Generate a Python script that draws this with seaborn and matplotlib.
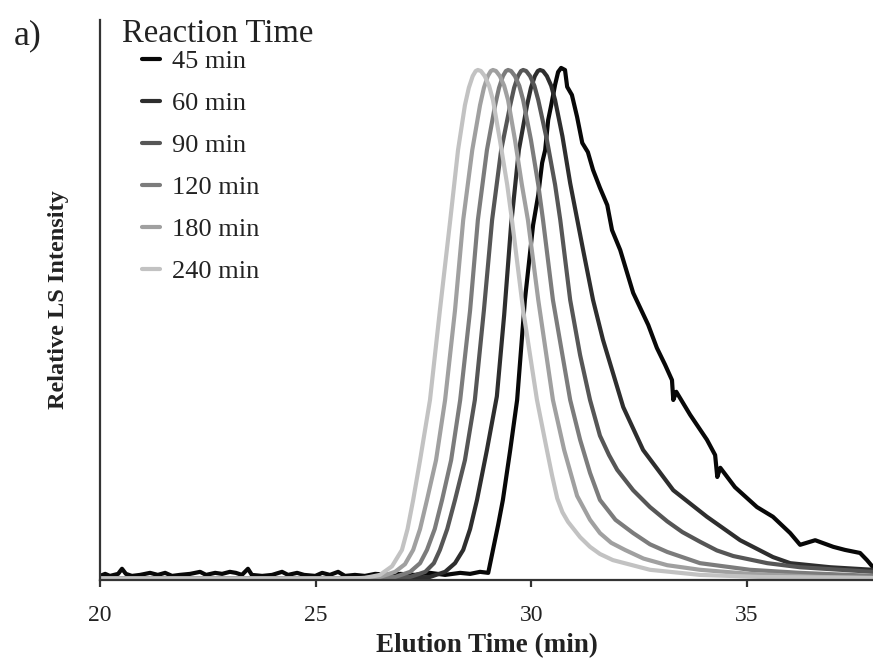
import matplotlib
matplotlib.use("Agg")
import matplotlib.pyplot as plt
import seaborn as sns
import pandas as pd

# Light-scattering traces (relative intensity) versus elution time, one per reaction time
labels = ["45 min", "60 min", "90 min", "120 min", "180 min", "240 min"]
colors = ["#080808", "#2e2e2e", "#565656", "#7c7c7c", "#a0a0a0", "#c2c2c2"]

t45 = [20.00, 20.12, 20.23, 20.42, 20.51, 20.60, 20.74, 20.93, 21.16, 21.34, 21.51, 21.67,
       21.85, 22.09, 22.32, 22.46, 22.67, 22.83, 23.01, 23.15, 23.29, 23.43, 23.52, 23.76,
       23.99, 24.22, 24.36, 24.57, 24.73, 24.99, 25.15, 25.33, 25.52, 25.68, 25.91, 26.14,
       26.38, 26.72, 26.96, 27.30, 27.65, 28.00, 28.35, 28.58, 28.81, 29.00,
       29.11, 29.23, 29.34, 29.51, 29.67, 29.85, 30.04, 30.16, 30.20, 30.25, 30.32, 30.39,
       30.46, 30.55, 30.62, 30.69,
       30.78, 30.83, 30.94, 31.06, 31.18, 31.31, 31.43, 31.59, 31.76, 31.87, 32.06, 32.36,
       32.71, 32.91, 33.10, 33.26, 33.29, 33.36, 33.68, 34.07, 34.26, 34.31, 34.38, 34.72,
       35.23, 35.60, 36.00, 36.23, 36.58, 37.00, 37.27, 37.62, 37.78, 37.92]
i45 = [0.008, 0.012, 0.008, 0.012, 0.022, 0.012, 0.008, 0.010, 0.014, 0.010, 0.014, 0.008,
       0.010, 0.012, 0.016, 0.010, 0.014, 0.012, 0.016, 0.014, 0.010, 0.022, 0.010, 0.008,
       0.010, 0.016, 0.010, 0.014, 0.010, 0.008, 0.014, 0.010, 0.016, 0.008, 0.010, 0.008,
       0.012, 0.010, 0.012, 0.010, 0.014, 0.010, 0.014, 0.012, 0.016, 0.014,
       0.059, 0.108, 0.157, 0.255, 0.353, 0.549, 0.696, 0.755, 0.784, 0.818, 0.843, 0.902,
       0.931, 0.971, 0.996, 1.004,
       1.000, 0.967, 0.951, 0.908, 0.857, 0.839, 0.804, 0.769, 0.735, 0.686, 0.647, 0.563,
       0.500, 0.455, 0.422, 0.392, 0.353, 0.369, 0.324, 0.275, 0.245, 0.202, 0.220, 0.182,
       0.143, 0.124, 0.092, 0.069, 0.078, 0.065, 0.059, 0.053, 0.039, 0.025]

t60 = [20.00, 26.96, 27.65, 28.00, 28.23, 28.42, 28.58, 28.74, 28.97, 29.20, 29.37, 29.53,
       29.71, 29.90, 29.99, 30.08, 30.15, 30.20, 30.27, 30.36, 30.46, 30.55, 30.72, 30.90,
       31.20, 31.43, 31.66, 32.13, 32.59, 33.29, 34.07, 34.84, 35.60, 36.00, 36.93, 37.92]
i60 = [0.003, 0.003, 0.006, 0.016, 0.033, 0.059, 0.100, 0.157, 0.255, 0.360, 0.520, 0.696,
       0.843, 0.931, 0.965, 0.988, 0.998, 1.000, 0.998, 0.988, 0.969, 0.941, 0.870, 0.778,
       0.647, 0.549, 0.471, 0.339, 0.255, 0.176, 0.124, 0.078, 0.045, 0.033, 0.025, 0.020]

t90 = [20.00, 26.61, 27.19, 27.54, 27.74, 27.88, 28.05, 28.23, 28.46, 28.69, 28.90, 29.09,
       29.30, 29.51, 29.60, 29.69, 29.76, 29.81, 29.88, 29.97, 30.07, 30.16, 30.36, 30.55,
       30.67, 30.90, 31.13, 31.36, 31.59, 31.80, 31.99, 32.36, 32.75, 33.15, 33.50, 33.91,
       34.30, 34.68, 35.47, 36.23, 37.92]
i90 = [0.003, 0.003, 0.006, 0.016, 0.033, 0.059, 0.100, 0.157, 0.235, 0.353, 0.529, 0.706,
       0.843, 0.931, 0.965, 0.988, 0.998, 1.000, 0.998, 0.988, 0.969, 0.941, 0.863, 0.775,
       0.706, 0.549, 0.441, 0.353, 0.283, 0.245, 0.216, 0.176, 0.143, 0.115, 0.094, 0.075,
       0.058, 0.047, 0.033, 0.025, 0.016]

t120 = [20.00, 26.26, 26.84, 27.19, 27.42, 27.58, 27.76, 27.93, 28.14, 28.35, 28.58, 28.76,
        28.97, 29.16, 29.25, 29.34, 29.41, 29.46, 29.53, 29.62, 29.72, 29.81, 29.99, 30.16,
        30.27, 30.50, 30.90, 31.13, 31.36, 31.59, 31.95, 32.36, 32.75, 33.15, 33.91, 35.07,
        36.23, 37.92]
i120 = [0.003, 0.003, 0.006, 0.016, 0.033, 0.059, 0.100, 0.157, 0.235, 0.353, 0.529, 0.706,
        0.843, 0.931, 0.965, 0.988, 0.998, 1.000, 0.998, 0.988, 0.969, 0.941, 0.863, 0.775,
        0.706, 0.549, 0.353, 0.275, 0.210, 0.157, 0.118, 0.092, 0.070, 0.055, 0.033, 0.020,
        0.014, 0.008]

t180 = [20.00, 25.91, 26.49, 26.84, 27.07, 27.26, 27.42, 27.58, 27.79, 28.00, 28.23, 28.42,
        28.63, 28.81, 28.90, 28.99, 29.06, 29.11, 29.18, 29.27, 29.37, 29.46, 29.62, 29.78,
        29.92, 30.16, 30.50, 30.76, 31.06, 31.36, 31.59, 31.85, 32.17, 32.60, 33.15, 33.91,
        35.07, 36.69, 37.92]
i180 = [0.003, 0.003, 0.006, 0.016, 0.031, 0.059, 0.100, 0.157, 0.235, 0.353, 0.529, 0.706,
        0.843, 0.931, 0.965, 0.988, 0.998, 1.000, 0.998, 0.988, 0.969, 0.941, 0.863, 0.775,
        0.706, 0.549, 0.353, 0.255, 0.165, 0.118, 0.092, 0.073, 0.059, 0.042, 0.029, 0.020,
        0.012, 0.006, 0.004]

t240 = [20.00, 25.56, 26.14, 26.49, 26.77, 27.00, 27.13, 27.26, 27.42, 27.65, 27.88, 28.12,
        28.30, 28.46, 28.55, 28.64, 28.71, 28.76, 28.83, 28.92, 29.02, 29.11, 29.27, 29.44,
        29.55, 29.81, 30.13, 30.36, 30.48, 30.60, 30.72, 30.85, 31.13, 31.36, 31.59, 31.89,
        32.75, 33.91, 35.30, 37.92]
i240 = [0.003, 0.003, 0.004, 0.010, 0.027, 0.059, 0.100, 0.157, 0.235, 0.353, 0.529, 0.706,
        0.843, 0.931, 0.965, 0.988, 0.998, 1.000, 0.998, 0.988, 0.969, 0.941, 0.863, 0.775,
        0.706, 0.529, 0.353, 0.255, 0.205, 0.160, 0.133, 0.114, 0.084, 0.065, 0.051, 0.039,
        0.020, 0.010, 0.006, 0.004]

times = [t45, t60, t90, t120, t180, t240]
intens = [i45, i60, i90, i120, i180, i240]
widths = [2.6, 2.0, 2.0, 2.0, 2.0, 2.0]

x_ticks = [20, 25, 30, 35]

sns.set_theme(style="white")
plt.rcParams["font.family"] = ["Liberation Serif", "DejaVu Serif"]

fig = plt.figure(figsize=(8.73, 6.62), dpi=100)
ax = fig.add_axes([100 / 873, 82 / 662, 773 / 873, 560 / 662])

for lab, col, lw, t, y in zip(labels, colors, widths, times, intens):
    df = pd.DataFrame({"Elution Time": t, "Intensity": y})
    sns.lineplot(data=df, x="Elution Time", y="Intensity", color=col, linewidth=lw,
                 label=lab, estimator=None, sort=False, ax=ax)

ax.set_xlim(20, 37.92)
ax.set_ylim(0, 1.098)
ax.set_xticks(x_ticks)
ax.set_xticklabels([str(v) for v in x_ticks])
ax.set_yticks([])
for side in ["top", "right"]:
    ax.spines[side].set_visible(False)
for side in ["left", "bottom"]:
    ax.spines[side].set_color("#333333")
    ax.spines[side].set_linewidth(1.6)
ax.tick_params(axis="x", direction="out", length=5, width=1.6, color="#333333",
               labelsize=17, pad=13, labelcolor="#222222", bottom=True)

ax.set_xlabel("Elution Time (min)", fontsize=19.5, fontweight="bold", color="#222222", labelpad=5)
ax.set_ylabel("Relative LS Intensity", fontsize=17.5, fontweight="bold", color="#222222", labelpad=22)

handles, labs = ax.get_legend_handles_labels()
for h in handles:
    h.set_linewidth(3)
leg = ax.legend(handles, labs, loc="upper left", bbox_to_anchor=(142 / 873, 1 - 50 / 662),
                bbox_transform=fig.transFigure, frameon=False, fontsize=19,
                handlelength=0.7, handletextpad=0.45, labelspacing=0.7,
                borderpad=0, borderaxespad=0)
for txt in leg.get_texts():
    txt.set_color("#222222")

fig.text(122 / 873, 1 - 42 / 662, "Reaction Time", fontsize=23.5, color="#222222",
         ha="left", va="baseline")
fig.text(14 / 873, 1 - 44 / 662, "a)", fontsize=26, color="#222222",
         ha="left", va="baseline")

fig.savefig("out.png", dpi=100)
